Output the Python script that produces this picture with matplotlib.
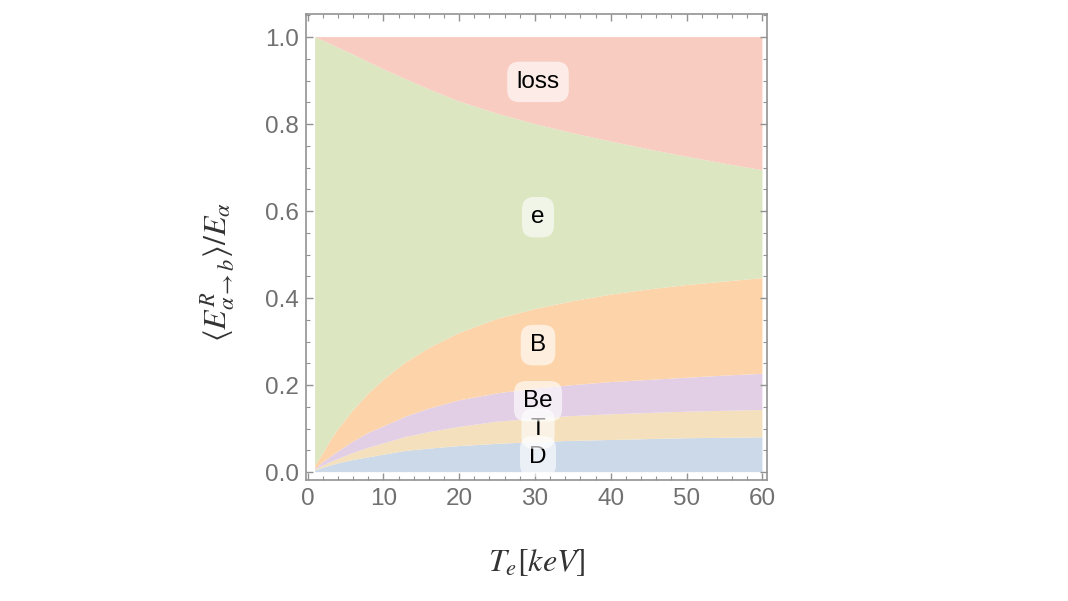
import matplotlib
matplotlib.use("Agg")
import matplotlib.pyplot as plt
from matplotlib.ticker import MultipleLocator

plt.rcParams['font.family'] = ['Liberation Sans', 'DejaVu Sans']
plt.rcParams['mathtext.fontset'] = 'stix'

# Electron temperature (keV)
Te = [1, 2, 3, 4, 6, 8, 10, 13, 16, 20, 25, 30, 35, 40, 45, 50, 55, 60]
# Fraction of alpha energy deposited in each channel
frac_D = [0.004, 0.010, 0.015, 0.020, 0.028, 0.034, 0.040, 0.049, 0.054, 0.060,
          0.065, 0.069, 0.072, 0.074, 0.076, 0.078, 0.079, 0.080]
frac_T = [0.002, 0.005, 0.008, 0.010, 0.016, 0.022, 0.026, 0.032, 0.038, 0.044,
          0.051, 0.054, 0.057, 0.059, 0.060, 0.061, 0.062, 0.063]
frac_Be = [0.002, 0.007, 0.012, 0.017, 0.026, 0.034, 0.039, 0.047, 0.054, 0.061,
           0.065, 0.069, 0.071, 0.074, 0.076, 0.078, 0.081, 0.083]
frac_B = [0.007, 0.020, 0.037, 0.051, 0.072, 0.090, 0.107, 0.125, 0.139, 0.155,
          0.171, 0.183, 0.193, 0.201, 0.208, 0.213, 0.216, 0.220]
frac_e = [0.985, 0.950, 0.912, 0.878, 0.818, 0.763, 0.714, 0.650, 0.595, 0.532,
          0.472, 0.425, 0.386, 0.352, 0.322, 0.295, 0.271, 0.248]
frac_loss = [0.000, 0.008, 0.016, 0.024, 0.040, 0.057, 0.074, 0.097, 0.120, 0.148,
             0.176, 0.200, 0.221, 0.240, 0.258, 0.275, 0.291, 0.306]

labels = ['D', 'T', 'Be', 'B', 'e', 'loss']
label_x = 30.4
label_y = [0.036, 0.100, 0.163, 0.292, 0.586, 0.897]
colors = ['#CCD9E8', '#F4E0BC', '#E2CFE6', '#FDD4AA', '#DCE6C1', '#F8CCC0']

fig = plt.figure(figsize=(10.68, 6.01), dpi=100)
ax = fig.add_axes([306/1068, 1 - 480/601, 461/1068, 466/601])

ax.stackplot(Te, frac_D, frac_T, frac_Be, frac_B, frac_e, frac_loss,
             colors=colors, linewidth=0)

for i, (lab, ly) in enumerate(zip(labels, label_y)):
    ax.text(label_x, ly, lab, ha='center', va='center', fontsize=17.5,
            color='black', zorder=5 + i,
            bbox=dict(boxstyle='round,pad=0.38,rounding_size=0.5',
                      fc='white', ec='none', alpha=0.62))

ax.set_xlim(-0.2, 60.6)
ax.set_ylim(-0.018, 1.053)

ax.xaxis.set_major_locator(MultipleLocator(10))
ax.xaxis.set_minor_locator(MultipleLocator(2))
ax.yaxis.set_major_locator(MultipleLocator(0.2))
ax.yaxis.set_minor_locator(MultipleLocator(0.05))
ax.yaxis.set_major_formatter(plt.FuncFormatter(lambda v, p: f'{v:.1f}'))

frame_col = '#929292'
for s in ax.spines.values():
    s.set_color(frame_col)
    s.set_linewidth(1.2)
ax.tick_params(which='both', direction='in', top=True, right=True,
               color=frame_col, labelcolor='#707070', labelsize=17.5)
ax.tick_params(which='major', length=5, width=1)
ax.tick_params(which='minor', length=3, width=0.8)
ax.tick_params(axis='x', pad=6)
ax.tick_params(axis='y', pad=5)

ax.set_xlabel(r'$T_e[keV]$', fontsize=23, color='#333333')
ax.xaxis.set_label_coords(0.5, -0.145)
ax.set_ylabel(r'$\langle E^R_{\alpha\to b}\rangle/E_\alpha$', fontsize=23,
              color='#333333')
ax.yaxis.set_label_coords(-0.15, 0.446)

fig.savefig('out.png', dpi=100)
